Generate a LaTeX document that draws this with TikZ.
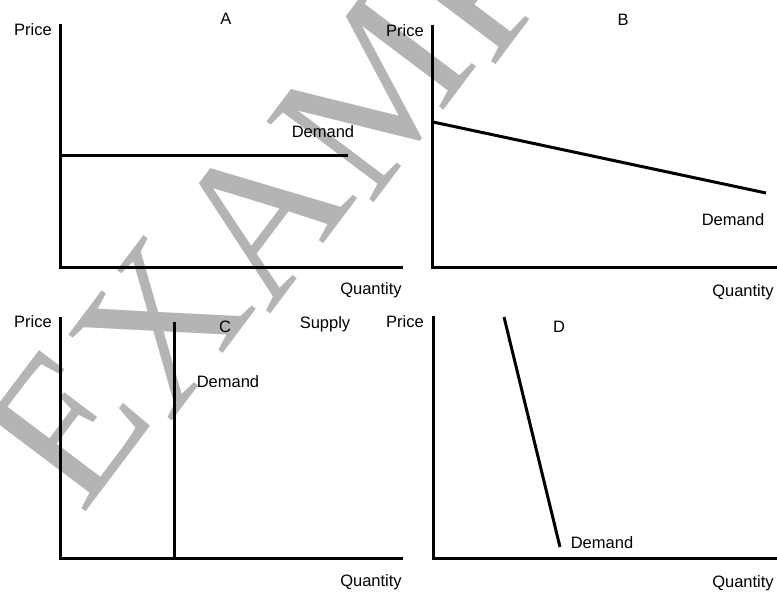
\documentclass[tikz,border=0pt]{standalone}
\usepackage{fontspec}
\setmainfont{Liberation Sans}
\newfontfamily\wmfont{Liberation Serif}
\definecolor{wmgray}{RGB}{180,180,180}

\begin{document}
\begin{tikzpicture}[x=1pt,y=-1pt,
  axis/.style={line width=3pt},
  curve/.style={line width=3pt},
  lbl/.style={font=\fontsize{16.5}{18}\selectfont,inner sep=0pt},
  wm/.style={wmgray,font=\wmfont\fontsize{205}{205}\selectfont,rotate=53,inner sep=0pt}]
\useasboundingbox (0,0) rectangle (777,592);
% watermark, one letter at a time
\node[wm] (wmE) at (67,426) {E};
\node[wm] (wmX) at (160,325) {X};
\node[wm] (wmA) at (260,216) {A};
\node[wm] (wmM) at (372,94) {M};
\node[wm] (wmP) at (472,-15) {P};
\node[wm] (wmL) at (553,-103) {L};
\node[wm] (wmE2) at (636,-193) {E};
% panel A
\draw[axis] (60,24) -- (60,267) -- (403,267);
\draw[curve] (60,155) -- (348,155);
\node[lbl] (priceA) at (33,30) {Price};
\node[lbl] (titleA) at (226,19) {A};
\node[lbl] (demA) at (323,132) {Demand};
\node[lbl] (qtyA) at (371,290) {Quantity};
% panel B
\draw[axis] (432,25) -- (432,267) -- (777,267);
\draw[curve] (433,122) -- (766,193);
\node[lbl] (priceB) at (405,31) {Price};
\node[lbl] (titleB) at (623,20) {B};
\node[lbl] (demB) at (733,220) {Demand};
\node[lbl] (qtyB) at (743,292) {Quantity};
% panel C
\draw[axis] (60,317) -- (60,558) -- (403,558);
\draw[curve] (174,322) -- (174,558);
\node[lbl] (priceC) at (33,322) {Price};
\node[lbl] (titleC) at (225,327) {C};
\node[lbl] (supC) at (325,324) {Supply};
\node[lbl] (demC) at (228,382) {Demand};
\node[lbl] (qtyC) at (371,582) {Quantity};
% panel D
\draw[axis] (433,316) -- (433,558) -- (777,558);
\draw[curve] (504,317) -- (560,547);
\node[lbl] (priceD) at (405,322) {Price};
\node[lbl] (titleD) at (559,327) {D};
\node[lbl] (demD) at (602,543) {Demand};
\node[lbl] (qtyD) at (743,583) {Quantity};
\end{tikzpicture}
\end{document}
